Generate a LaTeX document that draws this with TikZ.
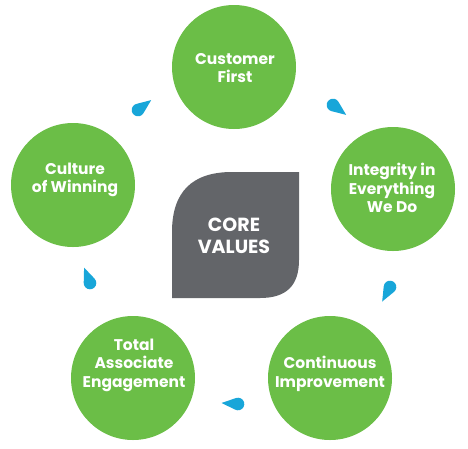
\documentclass[tikz,border=0pt]{standalone}
\usepackage{fontspec}
\setmainfont{Poppins}
\definecolor{leafgreen}{HTML}{6BBE47}
\definecolor{coregray}{HTML}{636569}
\definecolor{dropblue}{HTML}{18A6D9}
\tikzset{
  circ/.style={circle,fill=leafgreen,minimum size=124pt,inner sep=0pt},
  lbl/.style={text=white,font=\bfseries\fontsize{15.5}{18.5}\selectfont,align=center,inner sep=0pt},
  drop/.pic={\fill[dropblue] (0:16.5pt) -- (67:6.3pt) arc[start angle=67,end angle=293,radius=6.3pt] -- cycle;}
}
\begin{document}
\begin{tikzpicture}[x=1pt,y=-1pt]
\useasboundingbox (0,0) rectangle (468,448);
% circles
\node[circ] (c1) at (234,67) {};
\node[circ] (c2) at (393,189) {};
\node[circ] (c3) at (330,378) {};
\node[circ] (c4) at (133,378) {};
\node[circ] (c5) at (73,185) {};
% labels
\node[lbl] (t1) at (235,68) {Customer\\First};
\node[lbl] (t2) at (392,188) {Integrity in\\Everything\\We Do};
\node[lbl] (t3) at (330,374) {Continuous\\Improvement};
\node[lbl] (t4) at (134,365) {Total\\Associate\\Engagement};
\node[lbl] (t5) at (75,180) {Culture\\of Winning};
% center leaf
\fill[coregray] (172,298) -- (172,232) .. controls (172,192) and (192,172) .. (232,172)
  -- (299,172) -- (299,260) .. controls (299,286) and (286,298) .. (260,298) -- cycle;
\node[text=white,font=\bfseries\fontsize{19}{21.5}\selectfont,align=center,inner sep=0pt] (core) at (234,236) {CORE\\VALUES};
% droplets
\pic[rotate=36.9] (d1) at (138,110) {drop};
\pic[rotate=-36.9] (d2) at (333,105) {drop};
\pic[rotate=-118.3] (d3) at (390,287) {drop};
\pic[rotate=176.4] (d4) at (238,404) {drop};
\pic[rotate=111] (d5) at (90,283) {drop};
\end{tikzpicture}
\end{document}
